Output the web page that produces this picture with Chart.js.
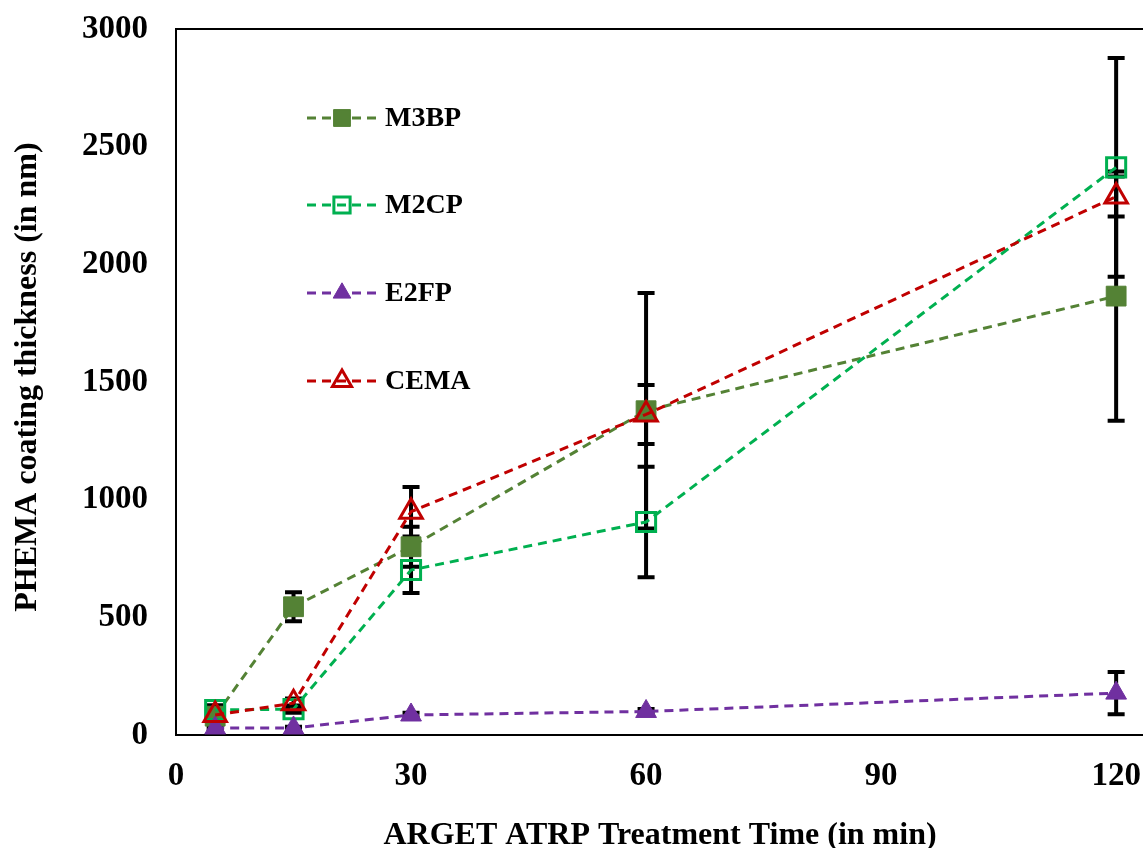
<!DOCTYPE html>
<html>
<head>
<meta charset="utf-8">
<script src="https://cdn.jsdelivr.net/npm/chart.js@4.4.1/dist/chart.umd.min.js"></script>
<style>
  html, body { margin: 0; padding: 0; background: #fff; overflow: hidden; }
  canvas { display: block; }
</style>
</head>
<body>
<canvas id="chart" width="1182" height="848"></canvas>
<script>
// 처리 시간 (min)
const times = [5, 15, 30, 60, 120];
const xTicks = [0, 30, 60, 90, 120];

// 코팅 두께 (nm) 와 오차
const m3bp = [80, 545, 800, 1378, 1865];
const m3bpErr = [15, 62, 85, 500, 530];
const m2cp = [106, 110, 701, 905, 2412];
const m2cpErr = [20, 15, 98, 235, 465];
const e2fp = [30, 30, 85, 100, 178];
const e2fpErr = [5, 5, 10, 10, 90];
const cema = [85, 135, 949, 1362, 2288];
const cemaErr = [15, 20, 105, 125, 85];

const serif = "'Liberation Serif', 'Times New Roman', serif";

function pts(ys) {
    return times.map((t, i) => ({ x: t, y: ys[i] }));
}

// 축 라벨 때문에 생기는 여백 제거
function noPad(scale) {
    scale.paddingTop = 0;
    scale.paddingBottom = 0;
    scale.paddingLeft = 0;
    scale.paddingRight = 0;
}

// 테두리 박스 + 오차 막대
const frameAndErrors = {
    id: 'frameAndErrors',
    beforeDatasetsDraw(chart) {
        const { ctx, chartArea, scales } = chart;
        ctx.save();
        ctx.strokeStyle = '#000';
        ctx.lineWidth = 2;
        ctx.strokeRect(chartArea.left, chartArea.top, chartArea.right - chartArea.left, chartArea.bottom - chartArea.top);

        ctx.lineWidth = 4;
        ctx.lineCap = 'butt';
        chart.data.datasets.forEach(ds => {
            ds.data.forEach((p, i) => {
                const e = ds.errors[i];
                const px = scales.x.getPixelForValue(p.x);
                const yTop = scales.y.getPixelForValue(p.y + e);
                const yBot = scales.y.getPixelForValue(p.y - e);
                ctx.beginPath();
                ctx.moveTo(px, yTop);
                ctx.lineTo(px, yBot);
                ctx.moveTo(px - 8.5, yTop);
                ctx.lineTo(px + 8.5, yTop);
                ctx.moveTo(px - 8.5, yBot);
                ctx.lineTo(px + 8.5, yBot);
                ctx.stroke();
            });
        });
        ctx.restore();
    }
};

// 범례와 축 제목
const legendAndTitles = {
    id: 'legendAndTitles',
    afterDraw(chart) {
        const { ctx } = chart;
        ctx.save();
        const legendY = [118, 205, 293, 381];
        chart.data.datasets.forEach((ds, i) => {
            const y = legendY[i];
            ctx.strokeStyle = ds.borderColor;
            ctx.lineWidth = 3;
            ctx.setLineDash([9, 6]);
            ctx.beginPath();
            ctx.moveTo(307, y);
            ctx.lineTo(377, y);
            ctx.stroke();
            ctx.setLineDash([]);
            ctx.fillStyle = ds.pointBackgroundColor;
            ctx.strokeStyle = ds.pointBorderColor;
            ctx.lineWidth = ds.pointBorderWidth;
            Chart.helpers.drawPoint(ctx, {
                pointStyle: ds.pointStyle,
                radius: ds.pointRadius * 0.85,
                rotation: 0,
                borderWidth: ds.pointBorderWidth
            }, 342, y);
            ctx.fillStyle = '#000';
            ctx.font = 'bold 28px ' + serif;
            ctx.textBaseline = 'middle';
            ctx.textAlign = 'left';
            ctx.fillText(ds.label, 385, y + 1);
        });

        ctx.font = 'bold 32px ' + serif;
        ctx.fillStyle = '#000';
        ctx.textAlign = 'center';
        ctx.textBaseline = 'alphabetic';
        ctx.fillText('ARGET ATRP Treatment Time (in min)', 660, 844);

        ctx.translate(36, 377);
        ctx.rotate(-Math.PI / 2);
        ctx.fillText('PHEMA coating thickness (in nm)', 0, 0);
        ctx.restore();
    }
};

const ctx = document.getElementById('chart').getContext('2d');
new Chart(ctx, {
    type: 'line',
    data: {
        datasets: [
            {
                label: 'M3BP', data: pts(m3bp), errors: m3bpErr, order: 3,
                borderColor: '#548235', pointStyle: 'rect', pointRadius: 14,
                pointBackgroundColor: '#548235', pointBorderColor: '#548235', pointBorderWidth: 1
            },
            {
                label: 'M2CP', data: pts(m2cp), errors: m2cpErr, order: 2,
                borderColor: '#00B050', pointStyle: 'rect', pointRadius: 13.5,
                pointBackgroundColor: 'rgba(0,0,0,0)', pointBorderColor: '#00B050', pointBorderWidth: 3
            },
            {
                label: 'E2FP', data: pts(e2fp), errors: e2fpErr, order: 1,
                borderColor: '#7030A0', pointStyle: 'triangle', pointRadius: 12,
                pointBackgroundColor: '#7030A0', pointBorderColor: '#7030A0', pointBorderWidth: 1
            },
            {
                label: 'CEMA', data: pts(cema), errors: cemaErr, order: 0,
                borderColor: '#C00000', pointStyle: 'triangle', pointRadius: 13,
                pointBackgroundColor: 'rgba(0,0,0,0)', pointBorderColor: '#C00000', pointBorderWidth: 3
            }
        ].map(ds => Object.assign(ds, {
            borderWidth: 3, borderDash: [9, 6], fill: false, tension: 0, clip: false,
            pointHoverRadius: ds.pointRadius
        }))
    },
    options: {
        responsive: false,
        animation: false,
        devicePixelRatio: 1,
        layout: { padding: { left: 0, right: 10, top: 29, bottom: 0 } },
        plugins: { legend: { display: false }, tooltip: { enabled: false } },
        scales: {
            x: {
                type: 'linear', min: 0, max: 126.3,
                afterBuildTicks: scale => { scale.ticks = xTicks.map(v => ({ value: v })); },
                afterFit: scale => { scale.height = 113; noPad(scale); },
                grid: { display: false, drawTicks: false },
                border: { display: false },
                ticks: { color: '#000', padding: 22, maxRotation: 0, font: { family: serif, size: 33, weight: 'bold' } }
            },
            y: {
                min: 0, max: 3000,
                afterFit: scale => { scale.width = 176; noPad(scale); },
                grid: { display: false, drawTicks: false },
                border: { display: false },
                ticks: {
                    color: '#000', stepSize: 500, padding: 28,
                    callback: v => String(v),
                    font: { family: serif, size: 33, weight: 'bold' }
                }
            }
        }
    },
    plugins: [frameAndErrors, legendAndTitles]
});
</script>
</body>
</html>
